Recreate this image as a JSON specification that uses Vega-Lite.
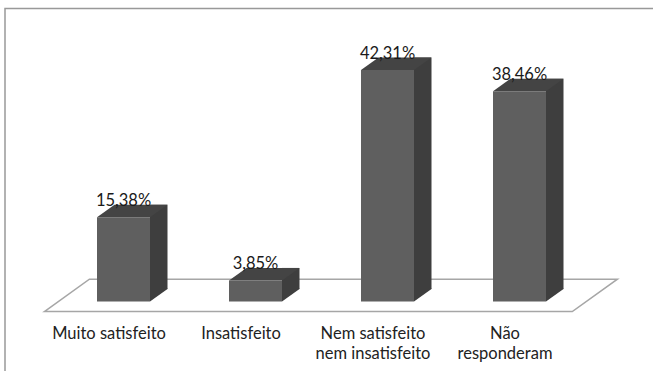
{
  "$schema": "https://vega.github.io/schema/vega-lite/v6.json",
  "autosize": "none",
  "padding": {"left": 0, "top": 0, "right": 0, "bottom": 69.5},
  "width": 653,
  "height": 301.5,
  "background": "#ffffff",
  "view": {"stroke": null},
  "data": {
    "values": [
      {"categoria": "Muito satisfeito", "valor": 15.38, "rotulo": "15,38%"},
      {"categoria": "Insatisfeito", "valor": 3.85, "rotulo": "3,85%"},
      {"categoria": "Nem satisfeito nem insatisfeito", "valor": 42.31, "rotulo": "42,31%"},
      {"categoria": "Não responderam", "valor": 38.46, "rotulo": "38,46%"}
    ]
  },
  "encoding": {
    "x": {
      "field": "categoria",
      "type": "nominal",
      "title": null,
      "scale": {
        "domain": ["Muito satisfeito", "Insatisfeito", "Nem satisfeito nem insatisfeito", "Não responderam"],
        "range": [57.5, 585.5],
        "paddingInner": 0.6,
        "paddingOuter": 0.3
      },
      "axis": {
        "domain": false,
        "ticks": false,
        "grid": false,
        "labelAngle": 0,
        "labelAlign": "center",
        "labelBaseline": "top",
        "labelOffset": -14.5,
        "labelPadding": 24,
        "labelFont": "Lato",
        "labelFontSize": 16.5,
        "labelColor": "#222222",
        "labelLineHeight": 20,
        "labelLimit": 300,
        "labelOverlap": false,
        "labelExpr": "datum.label == 'Nem satisfeito nem insatisfeito' ? ['Nem satisfeito', 'nem insatisfeito'] : datum.label == 'Não responderam' ? ['Não', 'responderam'] : datum.label"
      }
    },
    "y": {
      "field": "valor",
      "type": "quantitative",
      "axis": null,
      "scale": {"domain": [0, 55.12], "nice": false, "zero": true}
    }
  },
  "layer": [
    {
      "description": "Outer frame: top and left edges only",
      "data": {"values": [{"categoria": "Muito satisfeito", "valor": 0}]},
      "mark": {
        "type": "point",
        "shape": "M-118.5,80L-118.5,-293L540,-293",
        "size": 4,
        "filled": false,
        "fill": null,
        "stroke": "#999999",
        "strokeWidth": 1.5,
        "opacity": 1
      }
    },
    {
      "description": "Chart floor",
      "data": {"values": [{"categoria": "Insatisfeito", "valor": 0}]},
      "mark": {
        "type": "point",
        "shape": "M-211.1,10.1L-166.1,-22.3L361.9,-22.3L316.8,10.1Z",
        "size": 4,
        "filled": true,
        "fill": "#ffffff",
        "stroke": "#a6a6a6",
        "strokeWidth": 1.5,
        "opacity": 1
      }
    },
    {
      "description": "Side face of each column",
      "mark": {"type": "bar", "width": 17.5, "xOffset": 35.25, "yOffset": -12.5, "fill": "#3e3e3e"}
    },
    {
      "description": "Lower corner of the side face",
      "encoding": {"y": {"datum": 0}},
      "mark": {
        "type": "point",
        "shape": "M26.5,0L44,-12.5L44,-13L26.5,-13Z",
        "size": 4,
        "filled": true,
        "fill": "#3e3e3e",
        "opacity": 1
      }
    },
    {
      "description": "Top face of each column",
      "mark": {
        "type": "point",
        "shape": "M-26.5,0L26.5,0L44,-12.5L-9,-12.5Z",
        "size": 4,
        "filled": true,
        "fill": "#444444",
        "opacity": 1
      }
    },
    {
      "description": "Front face of each column",
      "mark": {"type": "bar", "width": 53, "fill": "#5f5f5f"}
    },
    {
      "description": "Percentage labels",
      "mark": {
        "type": "text",
        "baseline": "alphabetic",
        "align": "center",
        "dy": -11,
        "font": "Lato",
        "fontSize": 16.5,
        "fill": "#1a1a1a"
      },
      "encoding": {"text": {"field": "rotulo"}}
    }
  ]
}
